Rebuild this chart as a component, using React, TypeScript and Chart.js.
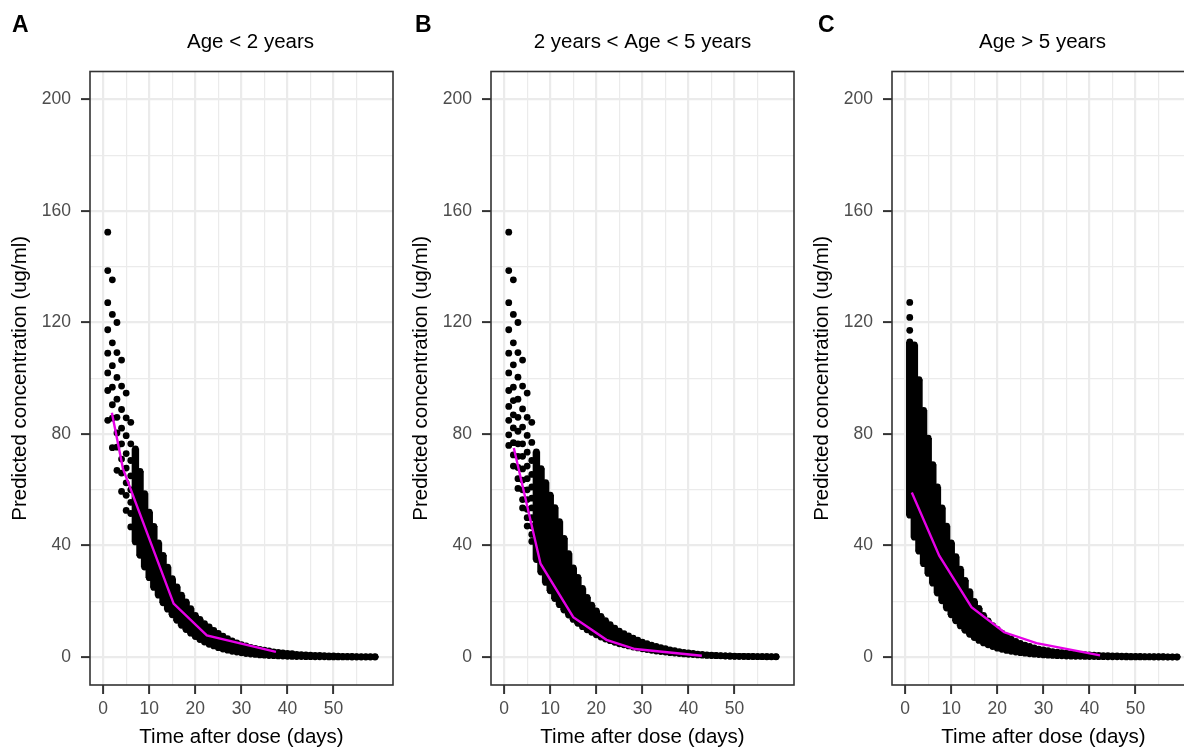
import React, { useEffect, useRef } from 'react';
import { Chart, registerables } from 'chart.js';

Chart.register(...registerables);

const FONT = "'Liberation Sans', Arial, Helvetica, sans-serif";

// ---------- shared categories / ticks ----------
const days = [
  1, 2, 3, 4, 5, 6, 7, 8, 9, 10, 11, 12, 13, 14, 15, 16, 17, 18, 19, 20,
  21, 22, 23, 24, 25, 26, 27, 28, 29, 30, 31, 32, 33, 34, 35, 36, 37, 38, 39, 40,
  41, 42, 43, 44, 45, 46, 47, 48, 49, 50, 51, 52, 53, 54, 55, 56, 57, 58, 59,
];
const xGridValues = [0, 5, 10, 15, 20, 25, 30, 35, 40, 45, 50, 55];
const yGridValues = [0, 20, 40, 60, 80, 100, 120, 140, 160, 180, 200];
const xAxisTitle = 'Time after dose (days)';
const yAxisTitle = 'Predicted concentration (ug/ml)';
const panelLetters = ['A', 'B', 'C'];
const panelTitles = ['Age < 2 years', '2 years < Age < 5 years', 'Age > 5 years'];

// ---------- Panel A: Age < 2 years ----------
// isolated points, per day (index = day - 1)
const sparseA = [
  [152.4, 138.6, 127.1, 117.4, 109.0, 101.9, 95.6, 84.9],
  [135.3, 122.9, 112.7, 104.5, 96.8, 90.5, 85.7, 75.1],
  [120.0, 109.2, 100.3, 92.5, 86.0, 80.4, 75.3, 67.0],
  [106.5, 97.2, 88.8, 82.1, 76.5, 71.0, 66.0, 59.4],
  [94.7, 85.8, 79.4, 73.0, 67.8, 62.5, 58.0, 52.6],
  [84.2, 76.5, 70.5, 65.0, 60.0, 55.5, 51.5, 46.7],
];
// dense column per day: highest / lowest point
const hiA = [
  null, null, null, null, null, null,
  74.7, 66.6, 58.6, 52.0, 46.9, 41.0, 36.5, 32.3, 28.1, 25.2, 22.2, 19.8, 17.4, 15.0,
  13.5, 12.0, 10.8, 9.6, 8.5, 7.5, 6.6, 5.8, 5.1, 4.5, 4.0, 3.5, 3.1, 2.8, 2.5, 2.2,
  1.9, 1.7, 1.5, 1.3, 1.2, 1.0, 0.9, 0.8, 0.7, 0.65, 0.6, 0.5, 0.45, 0.4, 0.35, 0.3,
  0.3, 0.25, 0.2, 0.2, 0.2, 0.15, 0.15,
];
const loA = [
  null, null, null, null, null, null,
  41.3, 36.5, 32.3, 28.5, 25.0, 22.2, 19.5, 17.2, 15.2, 13.2, 11.4, 9.9, 8.6, 7.4,
  6.3, 5.4, 4.6, 4.0, 3.4, 2.9, 2.5, 2.1, 1.8, 1.55, 1.3, 1.1, 0.95, 0.8, 0.68, 0.58,
  0.5, 0.42, 0.36, 0.3, 0.26, 0.22, 0.19, 0.16, 0.14, 0.12, 0.1, 0.09, 0.08, 0.07, 0.06,
  0.05, 0.05, 0.04, 0.04, 0.03, 0.03, 0.03, 0.02,
];
const lineAx = [1.9, 4.3, 15.3, 22.5, 37.5];
const lineAy = [87.6, 67.6, 19.2, 7.8, 1.9];

// ---------- Panel B: 2 years < Age < 5 years ----------
const sparseB = [
  [152.4, 138.6, 127.1, 117.4, 109.0, 101.9, 95.6, 89.9, 84.9, 79.7, 75.9],
  [135.3, 122.9, 112.7, 104.8, 96.8, 92.0, 86.9, 82.2, 76.9, 72.5, 68.5],
  [120.0, 109.2, 100.4, 92.5, 86.0, 81.0, 76.5, 72.0, 68.0, 64.0, 60.5],
  [106.5, 97.2, 89.0, 82.5, 76.5, 72.0, 67.5, 63.5, 60.0, 56.5, 53.5],
  [94.7, 86.0, 79.5, 73.5, 68.5, 64.0, 60.0, 56.5, 53.0, 50.0, 47.0],
  [84.2, 77.0, 70.5, 65.5, 61.0, 57.0, 53.5, 50.0, 47.0, 44.0, 41.5],
];
const hiB = [
  null, null, null, null, null, null,
  73.6, 67.6, 62.6, 58.1, 53.6, 48.6, 42.6, 37.1, 32.0, 28.6, 24.6, 21.4, 18.6, 16.6,
  14.6, 13.1, 11.6, 10.4, 9.3, 8.4, 7.6, 6.8, 6.1, 5.4, 4.8, 4.3, 3.8, 3.4, 3.0, 2.6,
  2.3, 2.0, 1.7, 1.5, 1.3, 1.1, 0.95, 0.8, 0.7, 0.6, 0.5, 0.45, 0.4, 0.35, 0.3, 0.28,
  0.25, 0.22, 0.2, 0.18, 0.16, 0.15, 0.14,
];
const loB = [
  null, null, null, null, null, null,
  35.0, 30.5, 26.8, 23.8, 21.0, 18.8, 16.9, 15.1, 13.5, 12.1, 10.9, 9.8, 8.9, 8.0,
  7.2, 6.5, 5.9, 5.3, 4.8, 4.4, 4.0, 3.6, 3.3, 3.0, 2.7, 2.45, 2.2, 2.0, 1.8, 1.6,
  1.45, 1.3, 1.15, 1.0, 0.9, 0.8, 0.7, 0.6, 0.55, 0.5, 0.45, 0.4, 0.35, 0.3, 0.27, 0.24,
  0.21, 0.19, 0.17, 0.15, 0.13, 0.12, 0.1,
];
const lineBx = [2.1, 7.9, 15.0, 22.2, 28.4, 42.9];
const lineBy = [75.0, 33.5, 14.3, 6.2, 2.9, 0.5];

// ---------- Panel C: Age > 5 years ----------
const sparseC = [[127.2, 121.8, 117.2]];
const hiC = [
  113.0, 112.0, 99.5, 88.5, 78.5, 69.0, 61.0, 53.5, 47.0, 41.0, 36.0, 31.5, 27.5, 23.5,
  20.0, 17.5, 15.0, 13.0, 11.3, 9.9, 8.6, 7.5, 6.5, 5.6, 4.9, 4.3, 3.8, 3.3, 2.9, 2.6,
  2.3, 2.0, 1.8, 1.6, 1.4, 1.25, 1.1, 1.0, 0.9, 0.8, 0.7, 0.6, 0.55, 0.5, 0.45, 0.4,
  0.36, 0.32, 0.29, 0.26, 0.23, 0.21, 0.19, 0.17, 0.15, 0.14, 0.12, 0.11, 0.1,
];
const loC = [
  50.9, 43.0, 38.0, 33.5, 30.0, 26.5, 23.0, 20.2, 17.6, 15.2, 13.0, 11.2, 9.6, 8.2,
  7.0, 6.0, 5.1, 4.4, 3.8, 3.2, 2.8, 2.4, 2.1, 1.8, 1.6, 1.4, 1.2, 1.05, 0.9, 0.8,
  0.7, 0.6, 0.53, 0.46, 0.4, 0.35, 0.3, 0.27, 0.24, 0.21, 0.18, 0.16, 0.14, 0.12, 0.11,
  0.1, 0.09, 0.08, 0.07, 0.06, 0.06, 0.05, 0.05, 0.04, 0.04, 0.04, 0.03, 0.03, 0.03,
];
const lineCx = [1.45, 7.4, 14.4, 21.5, 28.5, 42.3];
const lineCy = [59.0, 36.4, 17.9, 8.9, 5.0, 0.6];

type PanelProps = {
  index: number;
  left: number;
  titleX: number;
  letterX: number;
  sparse: number[][];
  hi: (number | null)[];
  lo: (number | null)[];
  lineX: number[];
  lineY: number[];
};

const CANVAS_W = 400;
const CANVAS_H = 751;

function Panel(props: PanelProps) {
  const ref = useRef<HTMLCanvasElement | null>(null);

  useEffect(() => {
    const { index, titleX, letterX, sparse, hi, lo, lineX, lineY } = props;
    const bars: any[] = [];
    const pts: any[] = [];
    days.forEach((d, i) => {
      (sparse[i] || []).forEach((v) => pts.push({ x: d, y: v }));
      const h = hi[i];
      const l = lo[i];
      if (h != null && l != null) {
        bars.push({ x: d, y: [l, h] });
        pts.push({ x: d, y: h });
        pts.push({ x: d, y: l });
      }
    });
    const line = lineX.map((x, i) => ({ x, y: lineY[i] }));

    const deco = {
      id: 'deco',
      afterDraw(chart: any) {
        const { ctx, chartArea } = chart;
        ctx.save();
        ctx.strokeStyle = '#333333';
        ctx.lineWidth = 1.6;
        ctx.strokeRect(chartArea.left, chartArea.top, chartArea.right - chartArea.left, chartArea.bottom - chartArea.top);
        ctx.fillStyle = '#000';
        ctx.textBaseline = 'alphabetic';
        ctx.textAlign = 'left';
        ctx.font = `bold 23px ${FONT}`;
        ctx.fillText(panelLetters[index], letterX, 32.3);
        ctx.textAlign = 'center';
        ctx.font = `20.5px ${FONT}`;
        ctx.fillText(panelTitles[index], titleX, 48.3);
        ctx.restore();
      },
    };

    const chart = new Chart(ref.current as HTMLCanvasElement, {
      type: 'scatter',
      data: {
        datasets: [
          {
            type: 'line',
            data: line,
            borderColor: '#E600E6',
            borderWidth: 2.4,
            pointRadius: 0,
            fill: false,
            tension: 0,
            order: 0,
          } as any,
          {
            type: 'scatter',
            data: pts,
            pointRadius: 3.4,
            backgroundColor: '#000000',
            borderWidth: 0,
            order: 1,
          } as any,
          {
            type: 'bar',
            data: bars,
            backgroundColor: '#000000',
            borderWidth: 0,
            barThickness: 6.8,
            grouped: false,
            order: 2,
          } as any,
        ],
      },
      options: {
        animation: false,
        responsive: false,
        events: [],
        layout: { padding: { top: 71.5, right: 7, left: 0, bottom: 0 } },
        plugins: {
          legend: { display: false },
          tooltip: { enabled: false },
          title: { display: false },
        },
        scales: {
          x: {
            type: 'linear',
            min: -2.85,
            max: 62.9,
            offset: false,
            afterBuildTicks: (s: any) => {
              s.ticks = xGridValues.map((v) => ({ value: v }));
            },
            afterFit: (s: any) => {
              s.height = 66;
            },
            border: { display: false },
            grid: {
              offset: false,
              color: '#EBEBEB',
              lineWidth: (c: any) => (c.tick && c.tick.value % 10 === 0 ? 2.2 : 1.2),
              drawTicks: true,
              tickLength: 9,
              tickWidth: 2,
              tickColor: (c: any) => (c.tick && c.tick.value % 10 === 0 ? '#333333' : 'rgba(0,0,0,0)'),
            },
            ticks: {
              autoSkip: false,
              maxRotation: 0,
              minRotation: 0,
              padding: 4.5,
              color: '#4D4D4D',
              font: { size: 17.5, family: FONT },
              callback: (v: any) => (Number(v) % 10 === 0 ? String(v) : ''),
            },
            title: {
              display: true,
              text: xAxisTitle,
              color: '#000000',
              font: { size: 20.5, family: FONT },
              padding: { top: 0, bottom: 1.7 },
            },
          },
          y: {
            type: 'linear',
            min: -10,
            max: 210,
            afterBuildTicks: (s: any) => {
              s.ticks = yGridValues.map((v) => ({ value: v }));
            },
            afterFit: (s: any) => {
              s.width = 90;
            },
            border: { display: false },
            grid: {
              color: '#EBEBEB',
              lineWidth: (c: any) => (c.tick && c.tick.value % 40 === 0 ? 2.2 : 1.2),
              drawTicks: true,
              tickLength: 9,
              tickWidth: 2,
              tickColor: (c: any) => (c.tick && c.tick.value % 40 === 0 ? '#333333' : 'rgba(0,0,0,0)'),
            },
            ticks: {
              autoSkip: false,
              padding: 10,
              color: '#4D4D4D',
              font: { size: 17.5, family: FONT },
              callback: (v: any) => (Number(v) % 40 === 0 ? String(v) : ''),
            },
            title: {
              display: true,
              text: yAxisTitle,
              color: '#000000',
              font: { size: 20.5, family: FONT },
              padding: { top: 7.7, bottom: 0 },
            },
          },
        },
      } as any,
      plugins: [deco],
    });
    return () => chart.destroy();
  }, []);

  return (
    <div style={{ position: 'absolute', left: props.left, top: 0, width: CANVAS_W, height: CANVAS_H }}>
      <canvas ref={ref} width={CANVAS_W} height={CANVAS_H} style={{ display: 'block', width: CANVAS_W, height: CANVAS_H }} />
    </div>
  );
}

export default function App() {
  return (
    <div
      style={{
        position: 'fixed',
        left: 0,
        top: 0,
        width: 1184,
        height: 751,
        overflow: 'hidden',
        background: '#ffffff',
      }}
    >
      <Panel index={0} left={0} titleX={250.5} letterX={12} sparse={sparseA} hi={hiA} lo={loA} lineX={lineAx} lineY={lineAy} />
      <Panel index={1} left={401} titleX={241.5} letterX={14} sparse={sparseB} hi={hiB} lo={loB} lineX={lineBx} lineY={lineBy} />
      <Panel index={2} left={802} titleX={240.5} letterX={16} sparse={sparseC} hi={hiC} lo={loC} lineX={lineCx} lineY={lineCy} />
    </div>
  );
}
